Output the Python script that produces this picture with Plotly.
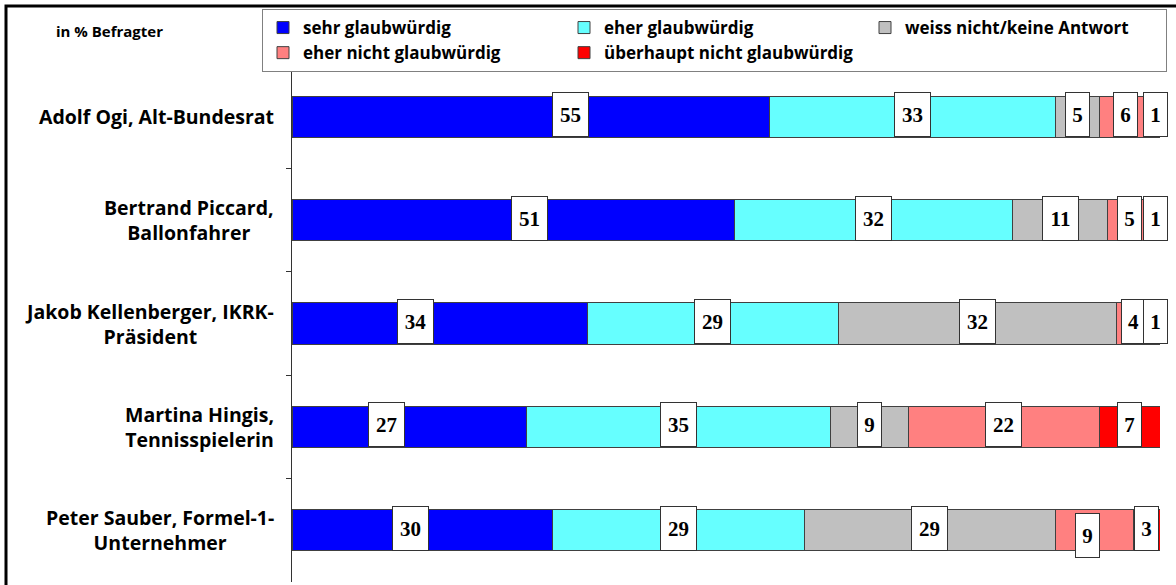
import plotly.graph_objects as go

categories = [
    "Adolf Ogi, Alt-Bundesrat",
    "Bertrand Piccard,<br>Ballonfahrer",
    "Jakob Kellenberger, IKRK-<br>Präsident",
    "Martina Hingis,<br>Tennisspielerin",
    "Peter Sauber, Formel-1-<br>Unternehmer",
]
series_names = [
    "sehr glaubwürdig",
    "eher glaubwürdig",
    "weiss nicht/keine Antwort",
    "eher nicht glaubwürdig",
    "überhaupt nicht glaubwürdig",
]
sehr = [55, 51, 34, 27, 30]
eher = [33, 32, 29, 35, 29]
weiss = [5, 11, 32, 9, 29]
eher_nicht = [6, 5, 4, 22, 9]
ueberhaupt = [1, 1, 1, 7, 3]
series_values = [sehr, eher, weiss, eher_nicht, ueberhaupt]
colors = ["#0000FF", "#66FFFF", "#C0C0C0", "#FF8080", "#FF0000"]

# small manual nudges of value labels (percent units / pixels)
label_dx = {(0, 0): 4.6, (0, 1): 1.9, (0, 2): -2.8, (0, 3): -2.6, (0, 4): -1.35,
            (3, 4): -0.8}
label_dy = {(3, 4): -7}

SANS = "Open Sans"

fig = go.Figure()
for name, vals, col in zip(series_names, series_values, colors):
    fig.add_trace(go.Bar(
        y=categories, x=vals, name=name, orientation="h",
        marker=dict(color=col, line=dict(color="#404040", width=1)),
        width=0.4, hoverinfo="x+name",
    ))

annotations = []
for ci, cat in enumerate(categories):
    start = 0
    for si, vals in enumerate(series_values):
        v = vals[ci]
        cx = start + v / 2 + label_dx.get((si, ci), 0)
        start += v
        txt = str(v)
        annotations.append(dict(
            x=cx, y=cat, xref="x", yref="y", text=txt, showarrow=False,
            font=dict(family="Liberation Serif", size=21, color="black", weight="bold"),
            bgcolor="white", bordercolor="#333333", borderwidth=1,
            width=21 if len(txt) == 1 else 33, height=41,
            yshift=2 + label_dy.get((si, ci), 0),
        ))
    annotations.append(dict(
        x=0, y=cat, xref="paper", yref="y", xanchor="right", xshift=-16,
        text=cat, showarrow=False, align="center",
        font=dict(family=SANS, size=19.5, color="black", weight="bold"),
    ))

W, H = 1176, 585
ml, mr, mt, mb = 292, 16, 65, 3
pw, ph = W - ml - mr, H - mt - mb

def px_x(x):
    return (x - ml) / pw

def px_y(y):
    return 1 + (mt - y) / ph

annotations.append(dict(
    x=px_x(109), y=px_y(31), xref="paper", yref="paper", showarrow=False,
    xanchor="center", yanchor="middle",
    text="in % Befragter",
    font=dict(family=SANS, size=15, color="black", weight="bold"),
))

fig.update_layout(
    width=W, height=H,
    margin=dict(l=ml, r=mr, t=mt, b=mb, autoexpand=False),
    barmode="stack",
    plot_bgcolor="white", paper_bgcolor="white",
    xaxis=dict(range=[0, 100], showticklabels=False, showgrid=False,
               zeroline=False, showline=False, ticks=""),
    yaxis=dict(autorange="reversed", showticklabels=False, showgrid=False,
               showline=True, linecolor="#333333", linewidth=1,
               ticks="outside", tickson="boundaries", ticklen=5,
               tickcolor="#333333"),
    showlegend=True,
    legend=dict(
        orientation="h", x=px_x(262), y=px_y(9),
        xanchor="left", yanchor="top",
        bgcolor="white", bordercolor="#808080", borderwidth=1,
        font=dict(family=SANS, size=17, color="black", weight="bold"),
        entrywidth=256, entrywidthmode="pixels", itemwidth=30,
        traceorder="normal", tracegroupgap=0,
    ),
    annotations=annotations,
    shapes=[dict(type="rect", xref="paper", yref="paper",
                 x0=px_x(6), x1=px_x(W + 20),
                 y0=px_y(H + 20), y1=px_y(6),
                 line=dict(color="black", width=3), layer="above")],
)

fig.write_html("out.html", post_script="document.body.style.margin='0';",
               config={"displayModeBar": False})
